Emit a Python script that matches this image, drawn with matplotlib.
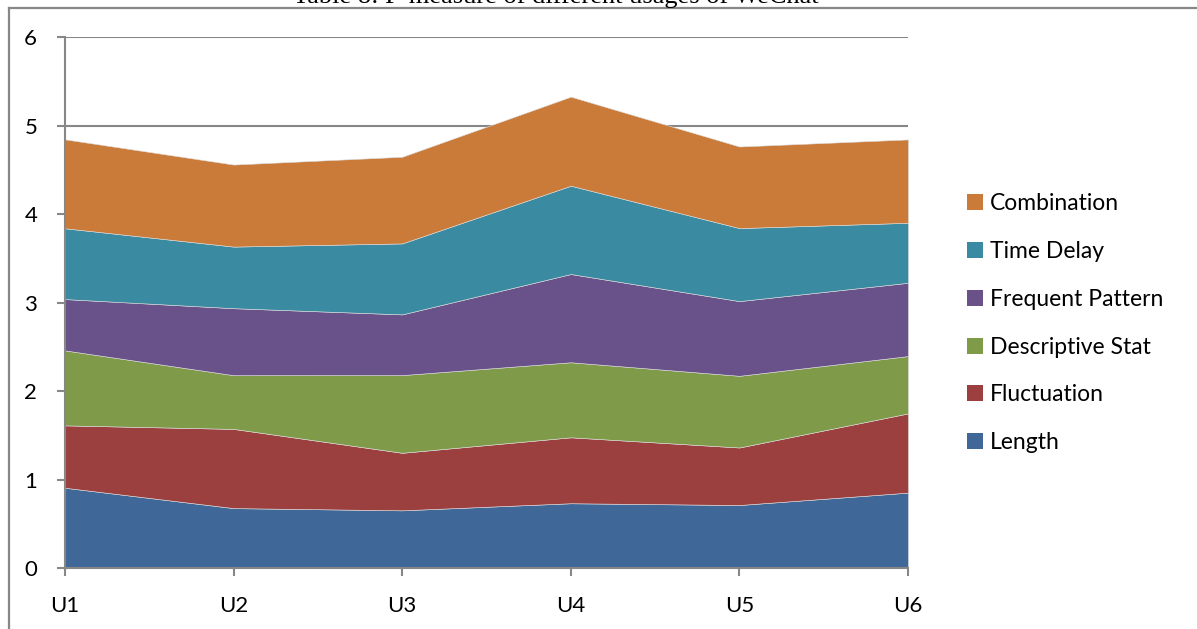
import matplotlib
matplotlib.use("Agg")
import matplotlib.pyplot as plt
from matplotlib.patches import Patch
from matplotlib.lines import Line2D

categories = ["U1", "U2", "U3", "U4", "U5", "U6"]
length = [0.91, 0.68, 0.655, 0.735, 0.715, 0.855]
fluctuation = [0.705, 0.895, 0.65, 0.745, 0.65, 0.895]
descriptive_stat = [0.847, 0.607, 0.878, 0.848, 0.81, 0.648]
frequent_pattern = [0.58, 0.757, 0.686, 0.997, 0.844, 0.828]
time_delay = [0.80, 0.696, 0.802, 0.998, 0.825, 0.678]
combination = [1.005, 0.927, 0.979, 1.006, 0.922, 0.942]

series_names = ["Length", "Fluctuation", "Descriptive Stat", "Frequent Pattern", "Time Delay", "Combination"]
series_values = [length, fluctuation, descriptive_stat, frequent_pattern, time_delay, combination]
colors = ["#3F6899", "#9C3F3F", "#7F9A48", "#69518A", "#3A8BA1", "#CA7B39"]

W, H = 1197, 629
fig = plt.figure(figsize=(W / 100, H / 100), dpi=100)
fig.patch.set_facecolor("white")

# outer frame (left and top edges visible)
fig.add_artist(Line2D([9 / W, 9 / W], [0, 1 - 8 / H], transform=fig.transFigure, color="#878787", lw=1.6))
fig.add_artist(Line2D([9 / W, 1], [1 - 8 / H, 1 - 8 / H], transform=fig.transFigure, color="#878787", lw=1.6))

fig.text(556 / W, 1 - 3 / H, "Table 8: F-measure of different usages of WeChat",
         family="Liberation Serif", fontsize=19, ha="center", va="baseline", color="black")

x0, x1, y0, y1 = 65, 908, 37.3, 568.3
ax = fig.add_axes([x0 / W, 1 - y1 / H, (x1 - x0) / W, (y1 - y0) / H])
x = list(range(len(categories)))
ax.stackplot(x, *series_values, colors=colors, labels=series_names, linewidth=0.4, edgecolor="#dddddd")

ax.set_xlim(0, len(categories) - 1)
ax.set_ylim(0, 6)
ax.set_yticks(range(0, 7))
ax.set_xticks(x)
ax.set_xticklabels(categories)
ax.grid(axis="y", color="#878787", lw=1.5)
ax.set_axisbelow(True)
for s in ["top", "right"]:
    ax.spines[s].set_visible(False)
for s in ["left", "bottom"]:
    ax.spines[s].set_color("#878787")
    ax.spines[s].set_linewidth(1.5)
    ax.spines[s].set_zorder(5)
ax.tick_params(axis="both", direction="out", length=6, width=1.5, color="#878787",
               labelsize=16, labelcolor="black")
ax.tick_params(axis="y", pad=14)
ax.tick_params(axis="x", pad=14)
for lab in ax.get_xticklabels() + ax.get_yticklabels():
    lab.set_family("Lato")

handles = [Patch(facecolor=c, edgecolor="none") for c in colors][::-1]
leg = fig.legend(handles, series_names[::-1], loc="upper left",
                 bbox_to_anchor=(958 / W, 1 - 184 / H), frameon=False,
                 prop={"family": "Lato", "size": 16.5}, handlelength=0.7, handleheight=0.7,
                 handletextpad=0.3, labelspacing=1.17, borderaxespad=0)

fig.savefig("out.png", dpi=100)
